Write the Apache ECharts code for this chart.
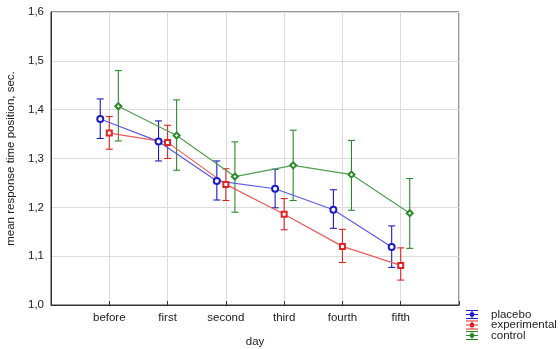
<!DOCTYPE html>
<html>
<head>
<meta charset="utf-8">
<script src="https://cdn.jsdelivr.net/npm/echarts@6/dist/echarts.min.js"></script>
<style>
  html, body { margin: 0; padding: 0; background: #fff; }
  #chart { width: 560px; height: 349px; }
</style>
</head>
<body>
<div id="chart"></div>
<script>
// Days of the experiment (x categories)
const days = ['before', 'first', 'second', 'third', 'fourth', 'fifth'];

// Mean response time per group, with lower / upper limits of the error bars
const placeboMean = [1.381, 1.335, 1.254, 1.238, 1.195, 1.119];
const placeboLow  = [1.341, 1.295, 1.215, 1.199, 1.157, 1.077];
const placeboHigh = [1.422, 1.377, 1.295, 1.278, 1.236, 1.162];

const experimentalMean = [1.352, 1.333, 1.247, 1.186, 1.120, 1.081];
const experimentalLow  = [1.319, 1.300, 1.214, 1.154, 1.087, 1.051];
const experimentalHigh = [1.386, 1.368, 1.279, 1.218, 1.155, 1.117];

const controlMean = [1.407, 1.347, 1.263, 1.286, 1.267, 1.188];
const controlLow  = [1.336, 1.276, 1.190, 1.214, 1.194, 1.116];
const controlHigh = [1.480, 1.420, 1.334, 1.358, 1.337, 1.259];

// Y axis tick values
const yTicks = [1.0, 1.1, 1.2, 1.3, 1.4, 1.5, 1.6];

const groups = [
  { name: 'placebo', mean: placeboMean, low: placeboLow, high: placeboHigh,
    shift: -0.155, symbol: 'emptyCircle', size: 6, dark: '#1c1cc8', light: '#5a5ae6' },
  { name: 'experimental', mean: experimentalMean, low: experimentalLow, high: experimentalHigh,
    shift: 0, symbol: 'emptyRect', size: 5, dark: '#e02424', light: '#ea5a5a' },
  { name: 'control', mean: controlMean, low: controlLow, high: controlHigh,
    shift: 0.155, symbol: 'emptyDiamond', size: 6, dark: '#2a8a2a', light: '#4fa04f' }
];

// Legend glyph: whiskers, centre line, stem and a small marker
const legendIcon = 'path://M0,0H12V1H0Z M0,8H12V9H0Z M0,4H12V5H0Z M5.5,0H6.5V9H5.5Z M4,2.5H8V6.5H4Z';

const series = [];
groups.forEach(g => {
  series.push({
    name: g.name,
    type: 'custom',
    z: 3,
    data: days.map((d, i) => [i + 1 + g.shift, g.low[i], g.high[i]]),
    renderItem: function (params, api) {
      const x = api.value(0);
      const lo = api.coord([x, api.value(1)]);
      const hi = api.coord([x, api.value(2)]);
      const cap = 3.5;
      const style = { stroke: g.dark, lineWidth: 1.1 };
      return {
        type: 'group',
        children: [
          { type: 'line', shape: { x1: hi[0], y1: hi[1], x2: lo[0], y2: lo[1] }, style },
          { type: 'line', shape: { x1: hi[0] - cap, y1: hi[1], x2: hi[0] + cap, y2: hi[1] }, style },
          { type: 'line', shape: { x1: lo[0] - cap, y1: lo[1], x2: lo[0] + cap, y2: lo[1] }, style }
        ]
      };
    },
    itemStyle: { color: g.dark },
    silent: true
  });
  series.push({
    name: g.name,
    type: 'line',
    z: 4,
    data: days.map((d, i) => [i + 1 + g.shift, g.mean[i]]),
    symbol: g.symbol,
    symbolSize: g.size,
    showSymbol: true,
    lineStyle: { color: g.light, width: 1.2 },
    itemStyle: { color: g.dark, borderColor: g.dark, borderWidth: 1.1 },
    emphasis: { disabled: true },
    animation: false
  });
});

// One legend block per group, stacked tightly under the plot
const legends = groups.map((g, i) => ({
  orient: 'vertical',
  left: 466, top: 308.5 + i * 10.5,
  padding: 0,
  itemWidth: 12, itemHeight: 9,
  icon: legendIcon,
  selectedMode: false,
  textStyle: { color: '#222', fontSize: 11.5, padding: [0, 0, 0, 8] },
  data: [{ name: g.name, itemStyle: { color: g.dark } }]
}));

const chart = echarts.init(document.getElementById('chart'), null, { renderer: 'canvas' });
chart.setOption({
  animation: false,
  backgroundColor: '#fff',
  textStyle: { fontFamily: 'Liberation Sans, Arial, sans-serif' },
  grid: {
    left: 51, top: 12, right: 101, bottom: 44,
    containLabel: false,
    outerBoundsMode: 'none',
    show: true, borderColor: '#333', borderWidth: 1, backgroundColor: 'transparent'
  },
  xAxis: {
    type: 'value',
    min: 0, max: 7, interval: 1,
    name: 'day',
    nameLocation: 'middle',
    nameGap: 31,
    nameTextStyle: { color: '#222', fontSize: 11.5 },
    axisLine: { show: true, lineStyle: { color: '#333' } },
    axisTick: { show: true, inside: true, length: 4, lineStyle: { color: '#333' } },
    axisLabel: {
      color: '#222', fontSize: 11.5, margin: 7,
      formatter: v => (v >= 1 && v <= days.length ? days[v - 1] : '')
    },
    splitLine: { show: true, lineStyle: { color: '#dcdcdc', width: 1 } }
  },
  yAxis: {
    type: 'value',
    min: yTicks[0], max: yTicks[yTicks.length - 1], interval: 0.1,
    name: 'mean response time position, sec.',
    nameLocation: 'middle',
    nameGap: 28,
    nameTextStyle: { color: '#222', fontSize: 11.5 },
    axisLine: { show: true, lineStyle: { color: '#333' } },
    axisTick: { show: false },
    axisLabel: {
      color: '#222', fontSize: 11.5, margin: 7,
      formatter: v => v.toFixed(1).replace('.', ',')
    },
    splitLine: { show: true, lineStyle: { color: '#dcdcdc', width: 1 } }
  },
  legend: legends,
  series: series
});
</script>
</body>
</html>
